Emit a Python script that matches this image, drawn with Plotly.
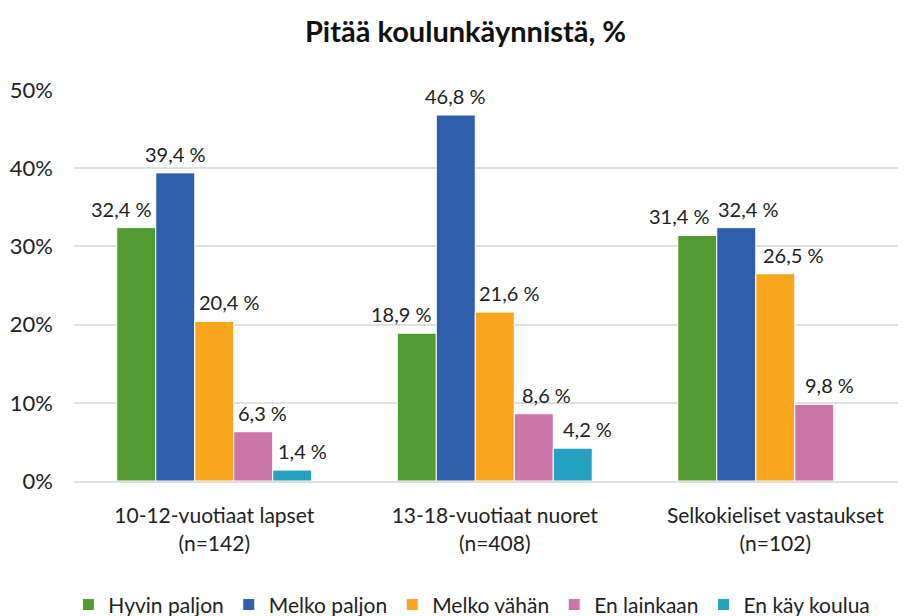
import plotly.graph_objects as go

categories = ["10-12-vuotiaat lapset<br>(n=142)", "13-18-vuotiaat nuoret<br>(n=408)", "Selkokieliset vastaukset<br>(n=102)"]
series_names = ["Hyvin paljon", "Melko paljon", "Melko vähän", "En lainkaan", "En käy koulua"]
hyvin_paljon = [32.4, 18.9, 31.4]
melko_paljon = [39.4, 46.8, 32.4]
melko_vahan = [20.4, 21.6, 26.5]
en_lainkaan = [6.3, 8.6, 9.8]
en_kay_koulua = [1.4, 4.2, None]
series_values = [hyvin_paljon, melko_paljon, melko_vahan, en_lainkaan, en_kay_koulua]
colors = ["#529B30", "#2F5FAB", "#F9A61E", "#CB75A8", "#27A1C2"]

font_family = "Lato, Open Sans, sans-serif"
bar_px = 39  # approx bar width in px, used to place labels over their bar
# horizontal nudge of each label (px), as the labels sit in the original
label_nudge = [[-15, -15, -18], [0, 0, 12], [15, 15, 18], [9, 13, 15], [10, 15, 0]]

fig = go.Figure()
annotations = []
for i, (name, vals, col) in enumerate(zip(series_names, series_values, colors)):
    fig.add_trace(go.Bar(
        x=categories, y=vals, name=name,
        marker=dict(color=col, line=dict(color="white", width=1)),
        hoverinfo="x+y+name",
    ))
    for j, v in enumerate(vals):
        if v is None:
            continue
        annotations.append(dict(
            x=categories[j], y=v, xref="x", yref="y",
            text=f"{v:.1f} %".replace(".", ","), showarrow=False,
            xshift=(i - 2) * bar_px + label_nudge[i][j], yshift=19,
            yanchor="middle", font=dict(size=20, color="#222"),
        ))

# page body has an 8px margin, so offsets are compensated here
fig.update_layout(
    width=906, height=616,
    paper_bgcolor="white", plot_bgcolor="white",
    barmode="group", bargap=0.305, bargroupgap=0,
    margin=dict(l=66, r=8, t=82, b=143),
    font=dict(family=font_family, size=20, color="#222"),
    title=dict(text="<b>Pitää koulunkäynnistä, %</b>", x=0.505, xanchor="center",
               y=0.962, yref="container", yanchor="middle", font=dict(size=29, color="#111")),
    yaxis=dict(range=[0, 50], dtick=10, ticksuffix="%", showgrid=True,
               gridcolor="#E0E0E0", gridwidth=2, zeroline=False, automargin=False,
               ticks="", ticklabelstandoff=20, tickfont=dict(size=22),
               fixedrange=True),
    xaxis=dict(showline=True, linecolor="#E0E0E0", linewidth=2, ticks="",
               range=[-0.5, 2.466], automargin=False,
               tickfont=dict(size=21), ticklabelstandoff=15),
    legend=dict(orientation="h", x=0.512, xref="container", xanchor="center",
                y=0.031, yref="container", yanchor="middle",
                font=dict(size=21), traceorder="normal", itemwidth=30),
    showlegend=True,
    annotations=annotations,
)

fig.write_html("out.html")
